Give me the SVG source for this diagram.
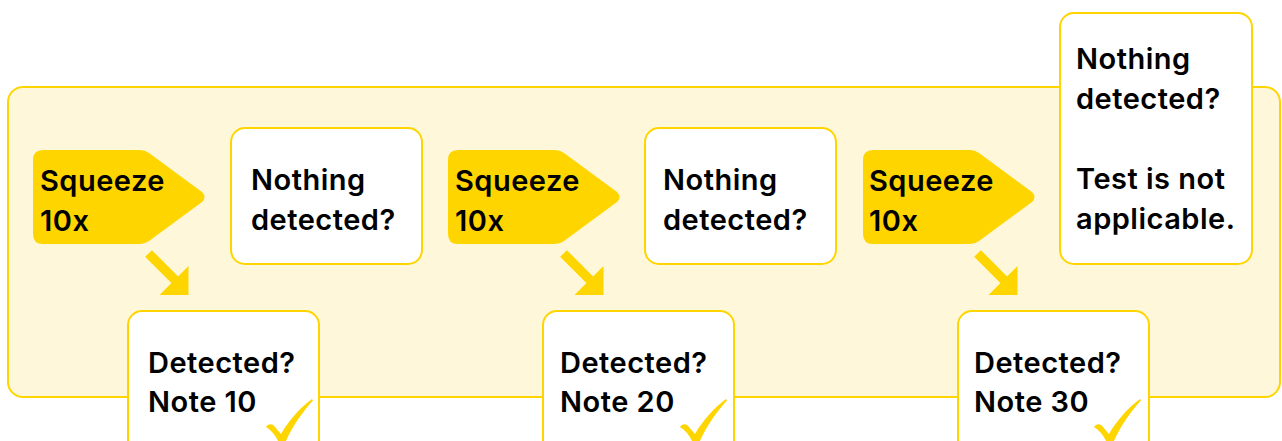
<svg xmlns="http://www.w3.org/2000/svg" xmlns:xlink="http://www.w3.org/1999/xlink" width="1282" height="441" viewBox="0 0 1282 441">
  <defs>
    <style>
      .container { fill: #FFF7DA; stroke: #FFD500; stroke-width: 2; }
      .box { fill: #FFFFFF; stroke: #FFD500; stroke-width: 2; }
      .tag { fill: #FFD500; }
      .txt { font-family: "Inter", "Liberation Sans", sans-serif; font-weight: 600; font-size: 29px; letter-spacing: 0.5px; fill: #000000; }
      .shaft { stroke: #FFD500; stroke-width: 9.5; fill: none; }
      .head { fill: #FFD500; }
      .check { fill: #FFD500; }
    </style>
    <path id="tagShape" d="M 43,150 L 140,150 Q 145,150 149,153 L 202,192 Q 207,197 202,202 L 149,241 Q 145,244 140,244 L 43,244 Q 33,244 33,234 L 33,160 Q 33,150 43,150 Z"/>
    <path id="checkShape" d="M 266,427 C 268,424 272,423 275,427 L 281,434 C 289,420 300,408 312,399 L 313,400.5 C 303,411 292,427 285,443 L 279,443 C 276,436 272,431 266,427 Z"/>
  </defs>

  <g id="container">
    <rect class="container" x="8" y="87" width="1272" height="310" rx="15" ry="15"/>
  </g>

  <g id="connectors">
    <g id="arrow1">
      <line class="shaft" x1="148.5" y1="253.5" x2="177" y2="282"/>
      <polygon class="head" points="188.5,266 188.5,295 159.5,295"/>
    </g>
    <g id="arrow2">
      <line class="shaft" x1="563.5" y1="253.5" x2="592" y2="282"/>
      <polygon class="head" points="603.5,266 603.5,295 574.5,295"/>
    </g>
    <g id="arrow3">
      <line class="shaft" x1="977.5" y1="253.5" x2="1006" y2="282"/>
      <polygon class="head" points="1017.5,266 1017.5,295 988.5,295"/>
    </g>
  </g>

  <g id="squeeze1">
    <use xlink:href="#tagShape" class="tag"/>
    <text class="txt" x="40" y="190.5">Squeeze</text>
    <text class="txt" x="40" y="230.5">10x</text>
  </g>
  <g id="nothing1">
    <rect class="box" x="231" y="128" width="191" height="136" rx="14" ry="14"/>
    <text class="txt" x="251" y="190">Nothing</text>
    <text class="txt" x="251" y="230">detected?</text>
  </g>
  <g id="detected1">
    <rect class="box" x="128" y="311" width="191" height="150" rx="14" ry="14"/>
    <text class="txt" x="148" y="372.5">Detected?</text>
    <text class="txt" x="148" y="412">Note 10</text>
    <use xlink:href="#checkShape" class="check"/>
  </g>

  <g id="squeeze2">
    <use xlink:href="#tagShape" class="tag" transform="translate(415,0)"/>
    <text class="txt" x="455" y="190.5">Squeeze</text>
    <text class="txt" x="455" y="230.5">10x</text>
  </g>
  <g id="nothing2">
    <rect class="box" x="645" y="128" width="191" height="136" rx="14" ry="14"/>
    <text class="txt" x="663" y="190">Nothing</text>
    <text class="txt" x="663" y="230">detected?</text>
  </g>
  <g id="detected2">
    <rect class="box" x="543" y="311" width="191" height="150" rx="14" ry="14"/>
    <text class="txt" x="560" y="372.5">Detected?</text>
    <text class="txt" x="560" y="412">Note 20</text>
    <use xlink:href="#checkShape" class="check" transform="translate(414,0)"/>
  </g>

  <g id="squeeze3">
    <use xlink:href="#tagShape" class="tag" transform="translate(830,0)"/>
    <text class="txt" x="869" y="190.5">Squeeze</text>
    <text class="txt" x="869" y="230.5">10x</text>
  </g>
  <g id="nothing3">
    <rect class="box" x="1060" y="13" width="192" height="251" rx="14" ry="14"/>
    <text class="txt" x="1076" y="68.5">Nothing</text>
    <text class="txt" x="1076" y="108.5">detected?</text>
    <text class="txt" x="1076" y="188.5">Test is not</text>
    <text class="txt" x="1076" y="228.5">applicable.</text>
  </g>
  <g id="detected3">
    <rect class="box" x="958" y="311" width="191" height="150" rx="14" ry="14"/>
    <text class="txt" x="974" y="372.5">Detected?</text>
    <text class="txt" x="974" y="412">Note 30</text>
    <use xlink:href="#checkShape" class="check" transform="translate(828,0)"/>
  </g>
</svg>
